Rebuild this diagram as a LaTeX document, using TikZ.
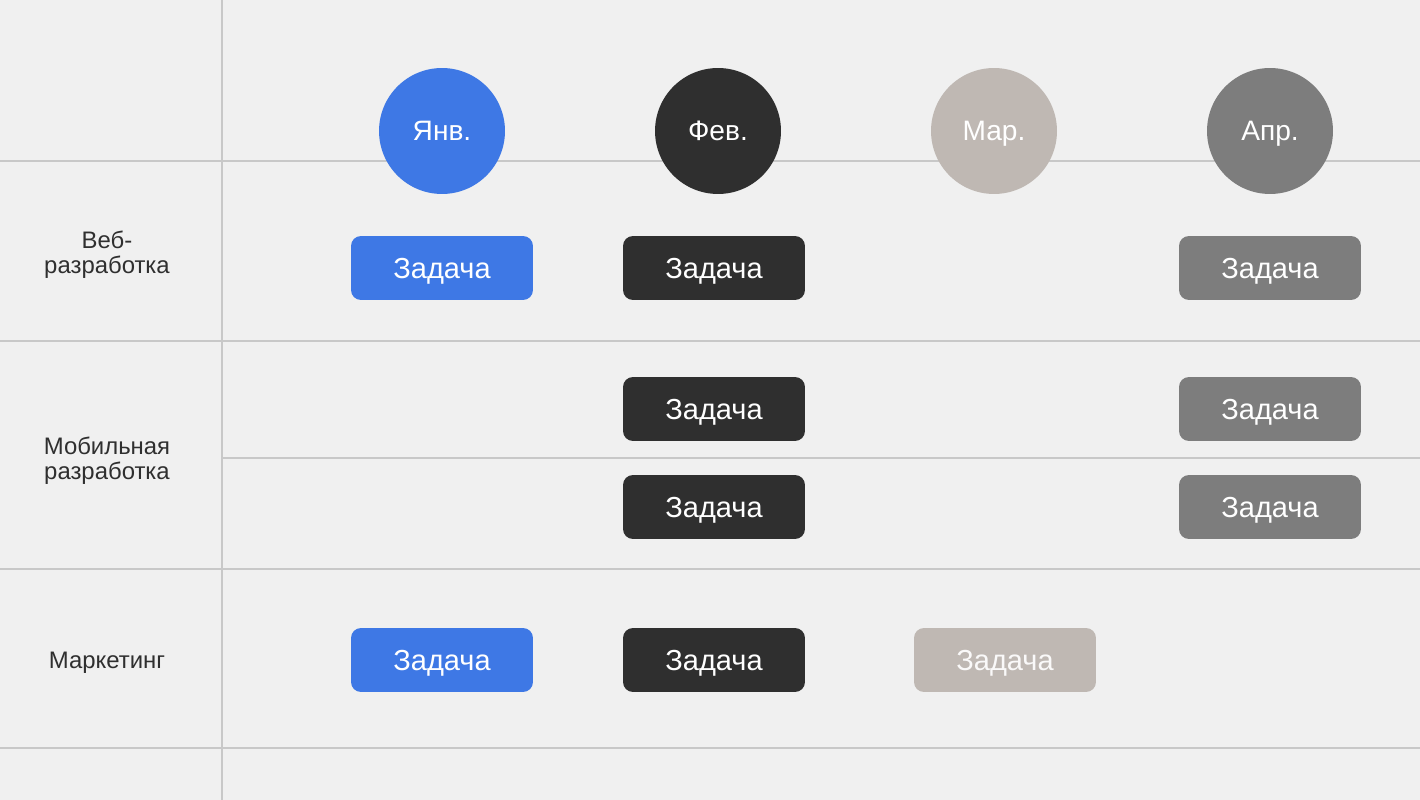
\documentclass[tikz,border=0pt]{standalone}
\usepackage{fontspec}
\setmainfont{Liberation Sans}
\usepackage{xcolor}
\usetikzlibrary{positioning}
\definecolor{BgGray}{HTML}{F0F0F0}
\definecolor{GridGray}{HTML}{C8C8C8}
\definecolor{JanBlue}{HTML}{3E78E5}
\definecolor{FebDark}{HTML}{2F2F2F}
\definecolor{MarBeige}{HTML}{BFB8B3}
\definecolor{AprGray}{HTML}{7D7D7D}
\definecolor{LabelText}{HTML}{2F2F2F}
\begin{document}
\begin{tikzpicture}[
        x=0.02cm, y=-0.02cm,
        % --- STYLE CHUNG ---
        gridline/.style={draw=GridGray, line width=0.8pt},
        % Style tháng (hình tròn)
        month/.style={
            circle,
            minimum size=2.52cm,
            inner sep=0pt,
            text=white,
            text depth=0pt,
            font=\fontsize{16}{18}\selectfont
        },
        % Style ô công việc
        task/.style={
            rectangle,
            rounded corners=0.2cm,
            minimum width=3.64cm,
            minimum height=1.28cm,
            inner sep=0pt,
            text=white,
            text depth=0pt,
            font=\fontsize{16.5}{18}\selectfont
        },
        % Style nhãn hàng
        rowlabel/.style={
            align=center,
            text=LabelText,
            text depth=0pt,
            font=\fontsize{13.6}{14.2}\selectfont
        }
    ]

        % --- NỀN ---
        \fill[BgGray] (0,0) rectangle (1420,800);
        \useasboundingbox (0,0) rectangle (1420,800);

        % --- LƯỚI ---
        \draw[gridline] (222,0) -- (222,800);
        \foreach \y in {161, 341, 569, 748} {
            \draw[gridline] (0,\y) -- (1420,\y);
        }
        \draw[gridline] (222,458) -- (1420,458);

        % --- THÁNG ---
        \node[month, fill=JanBlue] (jan) at (442,131) {Янв.};
        \node[month, fill=FebDark] (feb) at (718,131) {Фев.};
        \node[month, fill=MarBeige] (mar) at (994,131) {Мар.};
        \node[month, fill=AprGray] (apr) at (1270,131) {Апр.};

        % --- NHÃN HÀNG ---
        \node[rowlabel] (web) at (107,252) {Веб-\\разработка};
        \node[rowlabel] (mobile) at (107,458) {Мобильная\\разработка};
        \node[rowlabel] (marketing) at (107,660) {Маркетинг};

        % --- CÔNG VIỆC ---
        % Веб-разработка
        \node[task, fill=JanBlue] (webjan) at (442,268) {Задача};
        \node[task, fill=FebDark] (webfeb) at (714,268) {Задача};
        \node[task, fill=AprGray] (webapr) at (1270,268) {Задача};
        % Мобильная разработка
        \node[task, fill=FebDark] (mobfeba) at (714,409) {Задача};
        \node[task, fill=AprGray] (mobapra) at (1270,409) {Задача};
        \node[task, fill=FebDark] (mobfebb) at (714,507) {Задача};
        \node[task, fill=AprGray] (mobaprb) at (1270,507) {Задача};
        % Маркетинг
        \node[task, fill=JanBlue] (mktjan) at (442,660) {Задача};
        \node[task, fill=FebDark] (mktfeb) at (714,660) {Задача};
        \node[task, fill=MarBeige, text=white!92!MarBeige] (mktmar) at (1005,660) {Задача};

    \end{tikzpicture}
\end{document}
